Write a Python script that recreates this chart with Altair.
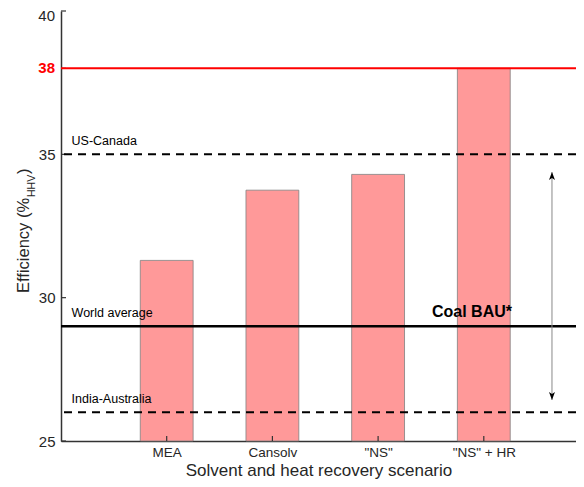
import altair as alt
import pandas as pd

# ---- data ----
scenarios = ['MEA', 'Cansolv', '"NS"', '"NS" + HR']
positions = [1, 2, 3, 4]
efficiency = [31.3, 33.75, 34.3, 38.0]

red_target = [38]
dashed_refs = [35, 26]
dashed_labels = ['US-Canada', 'India-Australia']
world_avg = [29]
world_label = ['World average']
bau_label = ['Coal BAU*']
y_ticks = [25, 30, 35, 38, 40]
y_top = [40]
arrow_top = [34.38]
arrow_bottom = [26.43]
arrow_x = [4.645]

W, H = 515, 430
X_MAX = W / 105.7
FONT = "Liberation Sans"

bars_df = pd.DataFrame({'pos': positions, 'name': scenarios, 'eff': efficiency})
bars_df['x0'] = bars_df['pos'] - 0.25
bars_df['x1'] = bars_df['pos'] + 0.25
bars_df['base'] = 25

xscale = alt.Scale(domain=[0, X_MAX], nice=False, zero=False)
yscale = alt.Scale(domain=[25, 40], nice=False, zero=False)

label_expr = " : ".join(
    [f"datum.value == {p} ? '{n}'" for p, n in zip(positions, scenarios)]) + " : ''"

x_axis = alt.Axis(
    values=positions, labelExpr=label_expr, ticks=False, grid=False,
    labelPadding=4, labelFontSize=13.5, labelFont=FONT, labelColor='#262626',
    title='Solvent and heat recovery scenario', titleFont=FONT,
    titleFontSize=17, titleFontWeight='normal', titleColor='#262626',
    titlePadding=4, domainColor='#333333', domainWidth=1.5)
y_axis = alt.Axis(
    values=y_ticks, ticks=False, grid=False, title=None,
    labelExpr="datum.value == 38 || datum.value == 40 ? '' : datum.label",
    labelPadding=6, labelFontSize=15, labelFont=FONT, labelColor='#262626',
    domainColor='#333333', domainWidth=1.5)


def X(field):
    return alt.X(field, scale=xscale, axis=x_axis)


def Y(field):
    return alt.Y(field, scale=yscale, axis=y_axis)


bars = alt.Chart(bars_df).mark_bar(
    color='#ff9999', stroke='#808080', strokeWidth=0.8
).encode(x=X('x0:Q'), x2='x1:Q', y=Y('eff:Q'), y2='base:Q')

# red bold "38" tick label
red_label = alt.Chart(pd.DataFrame({'v': red_target})).mark_text(
    align='right', baseline='middle', fontSize=15, fontWeight='bold', font=FONT,
    color='#ff0000'
).encode(y=Y('v:Q'), x=alt.value(-6), text=alt.Text('v:Q', format='d'))

# top "40" tick label, nudged down so it is not cut by the page edge
top_label = alt.Chart(pd.DataFrame({'v': y_top})).mark_text(
    align='right', baseline='middle', fontSize=15, font=FONT, color='#262626', dy=5
).encode(y=Y('v:Q'), x=alt.value(-6), text=alt.Text('v:Q', format='d'))

# inward ticks
yticks_layer = alt.Chart(pd.DataFrame({'v': y_ticks})).mark_rule(
    color='#333333', strokeWidth=1.2
).encode(y=Y('v:Q'), x=alt.value(0), x2=alt.value(5))

xticks_layer = alt.Chart(pd.DataFrame({'p': positions})).mark_rule(
    color='#333333', strokeWidth=1.2
).encode(x=X('p:Q'), y=alt.value(H), y2=alt.value(H - 5))

red_line = alt.Chart(pd.DataFrame({'v': red_target})).mark_rule(
    color='#ff0000', strokeWidth=2
).encode(y=Y('v:Q'))

dashed = alt.Chart(pd.DataFrame({'v': dashed_refs, 'lab': dashed_labels})).mark_rule(
    color='black', strokeWidth=2, strokeDash=[8, 6]
).encode(y=Y('v:Q'))

world = alt.Chart(pd.DataFrame({'v': world_avg, 'lab': world_label})).mark_rule(
    color='black', strokeWidth=2.5
).encode(y=Y('v:Q'))

ref_text_df = pd.DataFrame({'v': dashed_refs + world_avg, 'lab': dashed_labels + world_label,
                            'xl': [0.1, 0.1, 0.1]})
ref_text = alt.Chart(ref_text_df).mark_text(
    align='left', baseline='alphabetic', dy=-9, fontSize=12.5, font=FONT, color='black'
).encode(x=X('xl:Q'), y=Y('v:Q'), text='lab:N')

bau_text = alt.Chart(pd.DataFrame({'v': world_avg, 'lab': bau_label, 'xl': [4.267]})).mark_text(
    align='right', baseline='alphabetic', dy=-9, fontSize=16, fontWeight='bold',
    font=FONT, color='black'
).encode(x=X('xl:Q'), y=Y('v:Q'), text='lab:N')

arrow_df = pd.DataFrame({'x': arrow_x, 'top': arrow_top, 'bot': arrow_bottom})
arrow_line = alt.Chart(arrow_df).mark_rule(color='#888888', strokeWidth=1).encode(
    x=X('x:Q'), y=Y('top:Q'), y2='bot:Q')
arrow_up = alt.Chart(arrow_df).mark_point(
    shape='M0,0 L0.6,1.6 L0,1.2 L-0.6,1.6 Z', size=100, filled=True,
    color='black', opacity=1
).encode(x=X('x:Q'), y=Y('top:Q'))
arrow_down = alt.Chart(arrow_df).mark_point(
    shape='M0,0 L0.6,-1.6 L0,-1.2 L-0.6,-1.6 Z', size=100, filled=True,
    color='black', opacity=1
).encode(x=X('x:Q'), y=Y('bot:Q'))

# y axis title with subscript, built from text pieces
title_main = alt.Chart(pd.DataFrame({'t': ['Efficiency (%']})).mark_text(
    angle=270, align='left', baseline='middle', fontSize=16.5, font=FONT, color='#262626'
).encode(x=alt.value(-37), y=alt.value(282), text='t:N')
title_sub = alt.Chart(pd.DataFrame({'t': ['HHV']})).mark_text(
    angle=270, align='left', baseline='middle', fontSize=10.5, font=FONT, color='#262626'
).encode(x=alt.value(-29), y=alt.value(186), text='t:N')
title_close = alt.Chart(pd.DataFrame({'t': [')']})).mark_text(
    angle=270, align='left', baseline='middle', fontSize=16.5, font=FONT, color='#262626'
).encode(x=alt.value(-37), y=alt.value(163), text='t:N')

chart = alt.layer(
    bars, red_label, top_label, yticks_layer, xticks_layer, red_line, dashed, world,
    ref_text, bau_text, arrow_line, arrow_up, arrow_down, title_main, title_sub, title_close
).properties(
    width=W, height=H,
    padding={"left": 53, "top": 3, "right": 0, "bottom": 46},
    autosize=alt.AutoSizeParams(type="none"),
).configure_view(stroke=None)

chart.save("out.html", embed_options={"renderer": "svg", "actions": False})
